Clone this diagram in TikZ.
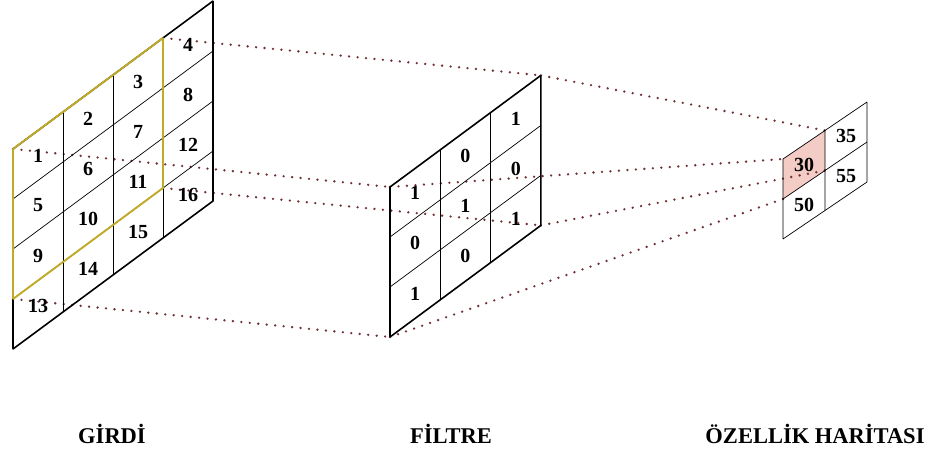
\documentclass[tikz,border=0pt]{standalone}
\usepackage{fontspec}
\setmainfont{Liberation Serif}
\usetikzlibrary{backgrounds, positioning}
\definecolor{gold}{RGB}{192,170,40}
\definecolor{salmon}{RGB}{244,204,198}
\definecolor{dotred}{RGB}{115,48,54}

\begin{document}
\begin{tikzpicture}[x=1pt, y=-1pt, line join=bevel,
	num/.style={font=\fontsize{20}{20}\selectfont\bfseries, inner sep=0pt},
	title/.style={font=\fontsize{22.5}{24}\selectfont\bfseries},
	frame/.style={line width=1.6pt},
	cellline/.style={line width=0.7pt},
	window/.style={draw=gold, line width=1.9pt},
	link/.style={dotred, line width=2.6pt, line cap=round, dash pattern=on 0pt off 8.5pt}]
	     \useasboundingbox (0,0) rectangle (930,454);
	     %
	     % input, 4x4
	     \begin{scope}[shift={(13,149)}, x={(50pt,37pt)}, y={(0pt,-50pt)}]
	          \draw[cellline] (1,0) -- (1,4) (2,0) -- (2,4) (3,0) -- (3,4);
	          \draw[cellline] (0,1) -- (4,1) (0,2) -- (4,2) (0,3) -- (4,3);
	          \draw[frame] (0,0) -- (4,0) -- (4,4) -- (0,4) -- cycle;
	          \draw[window] (0,0) -- (3,0) -- (3,3) -- (0,3) -- cycle;
	          \coordinate (win-nw) at (0,0);
	          \coordinate (win-ne) at (3,0);
	          \coordinate (win-sw) at (0,3);
	          \coordinate (win-se) at (3,3);
	          \node[num] (i1) at (0.5,0.5) {1};
	          \node[num] (i2) at (1.5,0.5) {2};
	          \node[num] (i3) at (2.5,0.5) {3};
	          \node[num] (i4) at (3.5,0.5) {4};
	          \node[num] (i5) at (0.5,1.5) {5};
	          \node[num] (i6) at (1.5,1.5) {6};
	          \node[num] (i7) at (2.5,1.5) {7};
	          \node[num] (i8) at (3.5,1.5) {8};
	          \node[num] (i9) at (0.5,2.5) {9};
	          \node[num] (i10) at (1.5,2.5) {10};
	          \node[num] (i11) at (2.5,2.5) {11};
	          \node[num] (i12) at (3.5,2.5) {12};
	          \node[num] (i13) at (0.5,3.5) {13};
	          \node[num] (i14) at (1.5,3.5) {14};
	          \node[num] (i15) at (2.5,3.5) {15};
	          \node[num] (i16) at (3.5,3.5) {16};
	     \end{scope}
	     %
	     % filter, 3x3
	     \begin{scope}[shift={(390,187)}, x={(50.3pt,37.2pt)}, y={(0pt,-50pt)}]
	          \draw[cellline] (1,0) -- (1,3) (2,0) -- (2,3);
	          \draw[cellline] (0,1) -- (3,1) (0,2) -- (3,2);
	          \draw[frame] (0,0) -- (3,0) -- (3,3) -- (0,3) -- cycle;
	          \coordinate (flt-nw) at (0,0);
	          \coordinate (flt-ne) at (3,0);
	          \coordinate (flt-sw) at (0,3);
	          \coordinate (flt-se) at (3,3);
	          \node[num] (f1) at (0.5,0.5) {1};
	          \node[num] (f2) at (1.5,0.5) {0};
	          \node[num] (f3) at (2.5,0.5) {1};
	          \node[num] (f4) at (0.5,1.5) {0};
	          \node[num] (f5) at (1.5,1.5) {1};
	          \node[num] (f6) at (2.5,1.5) {0};
	          \node[num] (f7) at (0.5,2.5) {1};
	          \node[num] (f8) at (1.5,2.5) {0};
	          \node[num] (f9) at (2.5,2.5) {1};
	     \end{scope}
	     %
	     % feature map, 2x2
	     \begin{scope}[shift={(783,159)}, x={(42pt,28.5pt)}, y={(0pt,-40pt)}]
	          \begin{scope}[on background layer]
	               \fill[salmon] (0,0) -- (1,0) -- (1,1) -- (0,1) -- cycle;
	          \end{scope}
	          \draw[cellline] (1,0) -- (1,2) (0,1) -- (2,1);
	          \draw[cellline] (0,0) -- (2,0) -- (2,2) -- (0,2) -- cycle;
	          \coordinate (map-nw) at (0,0);
	          \coordinate (map-ne) at (1,0);
	          \coordinate (map-sw) at (0,1);
	          \coordinate (map-se) at (1,1);
	          \node[num] (o1) at (0.5,0.5) {30};
	          \node[num] (o2) at (1.5,0.5) {35};
	          \node[num] (o3) at (0.5,1.5) {50};
	          \node[num] (o4) at (1.5,1.5) {55};
	     \end{scope}
	     %
	     \node[title] (girdi) at (112,434) {GİRDİ};
	     \node[title] (filtre) at (451,434) {FİLTRE};
	     \node[title] (harita) at (815,434) {ÖZELLİK HARİTASI};
	     %
	     \begin{scope}[on background layer]
	          \path[link] (win-nw) edge (flt-nw) (flt-nw) edge (map-nw);
	          \path[link] (win-ne) edge (flt-ne) (flt-ne) edge (map-ne);
	          \path[link] (win-sw) edge (flt-sw) (flt-sw) edge (map-sw);
	          \path[link] (win-se) edge (flt-se) (flt-se) edge (map-se);
	     \end{scope}
\end{tikzpicture}
\end{document}
